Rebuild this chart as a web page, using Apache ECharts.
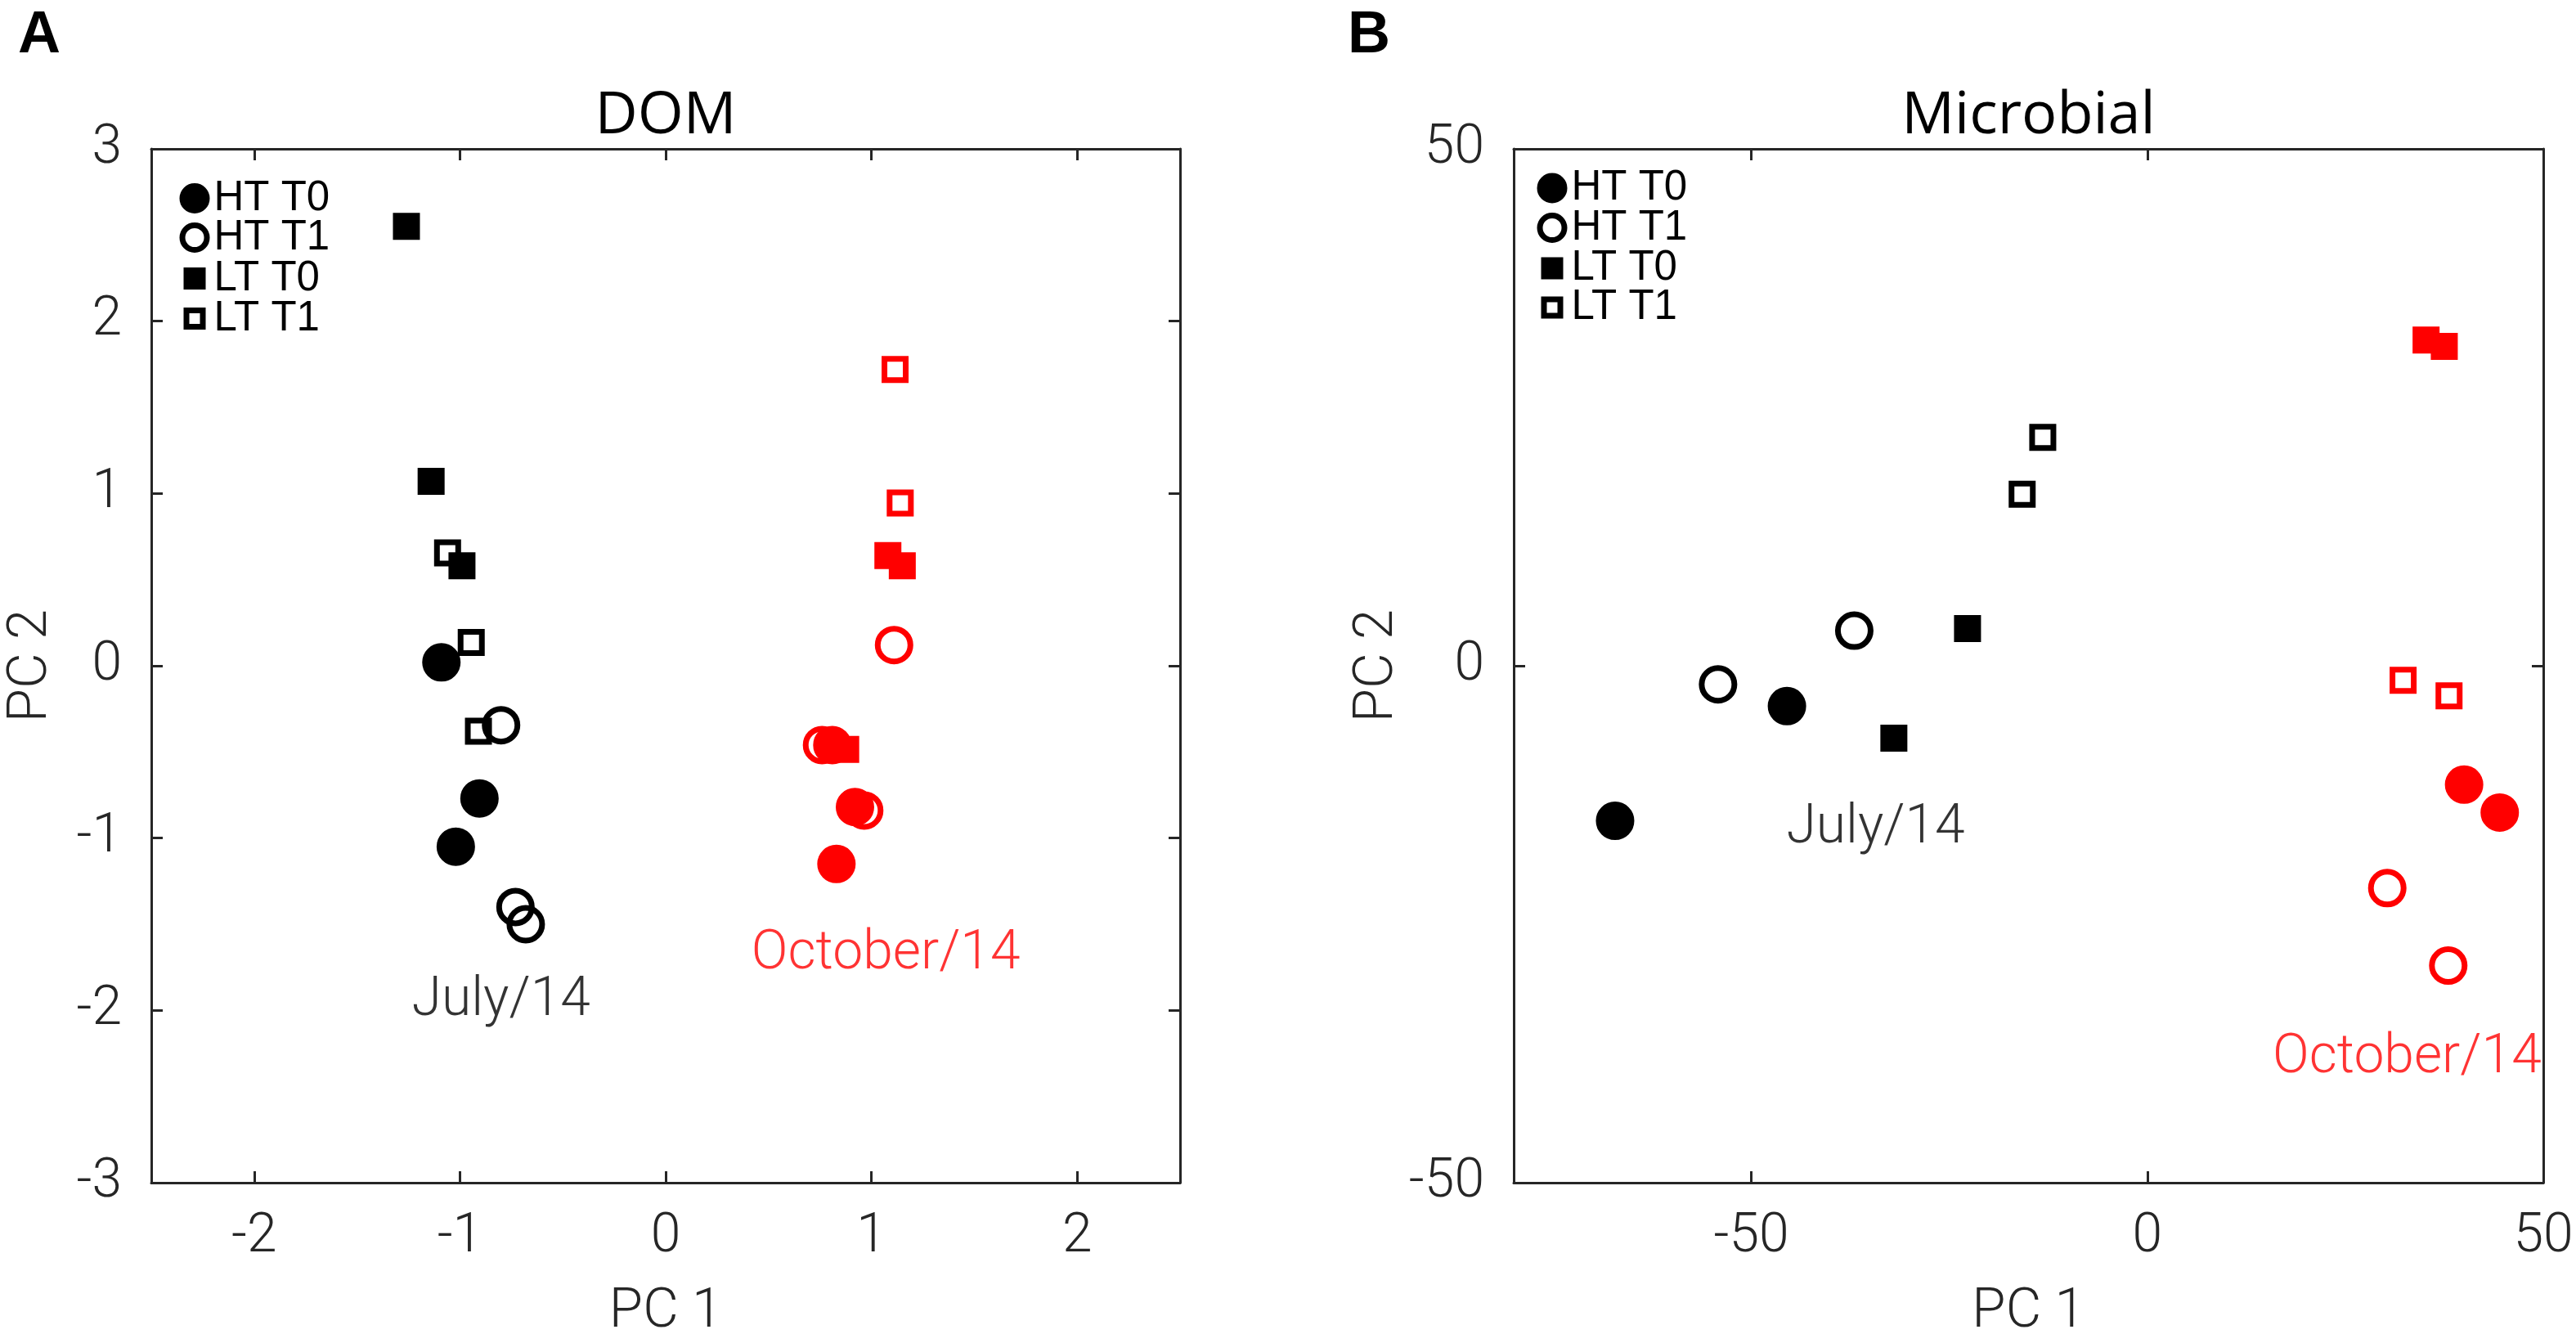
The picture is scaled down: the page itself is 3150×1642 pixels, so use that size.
<!DOCTYPE html>
<html>
<head>
<meta charset="utf-8">
<title>DOM / Microbial PCA</title>
<script src="https://cdn.jsdelivr.net/npm/echarts@6.0.0/dist/echarts.min.js"></script>
<style>
html, body { margin: 0; padding: 0; background: #fff; }
#myChart { width: 3150px; height: 1642px; }
</style>
</head>
<body>
<div id="myChart"></div>
<script>
// 数据: [PC 1, PC 2]
// A - DOM, July/14 (black)
var domJulyHT0 = [[-1.09, 0.02], [-0.905, -0.77], [-1.02, -1.05]];
var domJulyHT1 = [[-0.80, -0.345], [-0.73, -1.40], [-0.68, -1.50]];
var domJulyLT0 = [[-1.26, 2.55], [-1.14, 1.07], [-0.99, 0.58]];
var domJulyLT1 = [[-1.06, 0.655], [-0.945, 0.135], [-0.91, -0.38]];
// A - DOM, October/14 (red)
var domOctHT0 = [[0.81, -0.46], [0.92, -0.82], [0.83, -1.15]];
var domOctHT1 = [[0.76, -0.46], [0.965, -0.84], [1.11, 0.12]];
var domOctLT0 = [[0.875, -0.485], [1.08, 0.64], [1.15, 0.58]];
var domOctLT1 = [[1.115, 1.72], [1.14, 0.945]];

// B - Microbial, July/14 (black)
var micJulyHT0 = [[-45.5, -3.9], [-67.2, -15.0]];
var micJulyHT1 = [[-54.2, -1.8], [-37.0, 3.4]];
var micJulyLT0 = [[-22.7, 3.6], [-32.0, -7.0]];
var micJulyLT1 = [[-13.2, 22.1], [-15.8, 16.6]];
// B - Microbial, October/14 (red)
var micOctHT0 = [[40.0, -11.5], [44.5, -14.2]];
var micOctHT1 = [[30.3, -21.5], [38.0, -29.0]];
var micOctLT0 = [[35.2, 31.5], [37.5, 30.9]];
var micOctLT1 = [[32.3, -1.4], [38.1, -2.9]];

// 刻度
var domTicksX = [-2, -1, 0, 1, 2];
var domTicksY = [-3, -2, -1, 0, 1, 2, 3];
var micTicksX = [-50, 0, 50];
var micTicksY = [-50, 0, 50];

// 图例与标注
var groupNames = ['HT T0', 'HT T1', 'LT T0', 'LT T1'];
var monthNames = ['July/14', 'October/14'];
var domNotes = [[-0.80, -1.95], [1.07, -1.68]];
var micNotes = [[-34.3, -15.8], [32.8, -38.0]];

var BLACK = '#000000';
var RED = '#ff0000';
var AXIS = '#262626';
var LIGHT = 'Roboto';

function makeXAxis(grid, pos, min, max, ticks, name, nameStyle, nameGap) {
    return {
        type: 'value', gridIndex: grid, position: pos, min: min, max: max,
        name: name, nameLocation: 'middle', nameGap: nameGap,
        nameTextStyle: nameStyle,
        axisLine: { show: true, onZero: false, lineStyle: { color: AXIS, width: 3 } },
        axisTick: { show: true, inside: true, length: 14, customValues: ticks, lineStyle: { color: AXIS, width: 3 } },
        axisLabel: {
            show: pos === 'bottom', customValues: ticks, margin: 34,
            fontFamily: LIGHT, fontWeight: 300, fontSize: 66, color: AXIS
        },
        splitLine: { show: false }
    };
}

function makeYAxis(grid, pos, min, max, ticks, name) {
    return {
        type: 'value', gridIndex: grid, position: pos, min: min, max: max,
        name: name, nameLocation: 'middle', nameGap: 112,
        nameTextStyle: { fontFamily: LIGHT, fontWeight: 300, fontSize: 67, color: AXIS },
        axisLine: { show: true, onZero: false, lineStyle: { color: AXIS, width: 3 } },
        axisTick: { show: true, inside: true, length: 14, customValues: ticks, lineStyle: { color: AXIS, width: 3 } },
        axisLabel: {
            show: pos === 'left', customValues: ticks, margin: 36,
            fontFamily: LIGHT, fontWeight: 300, fontSize: 66, color: AXIS
        },
        splitLine: { show: false }
    };
}

function pointSeries(name, data, grid, color, shape) {
    var open = shape === 'openCircle' || shape === 'openSquare';
    var round = shape === 'circle' || shape === 'openCircle';
    return {
        name: name, type: 'scatter', xAxisIndex: grid * 2, yAxisIndex: grid * 2,
        data: data,
        symbol: round ? 'circle' : 'rect',
        symbolSize: round ? 40 : 26,
        itemStyle: { color: open ? 'rgba(0,0,0,0)' : color, borderColor: color, borderWidth: 7, opacity: 1 },
        emphasis: { disabled: true }
    };
}

function noteSeries(text, pos, grid, color) {
    return {
        name: text, type: 'scatter', xAxisIndex: grid * 2, yAxisIndex: grid * 2,
        data: [{ name: text, value: pos }],
        symbolSize: 1, silent: true,
        itemStyle: { color: 'rgba(0,0,0,0)' },
        label: {
            show: true, position: 'inside', formatter: '{b}',
            fontFamily: LIGHT, fontWeight: 300, fontSize: 66, color: color
        }
    };
}

var shapes = ['circle', 'openCircle', 'square', 'openSquare'];

// 每个图例项单独放置, 便于控制行距
function makeLegend(k, left, centerY) {
    var shape = shapes[k];
    var open = shape === 'openCircle' || shape === 'openSquare';
    var round = shape === 'circle' || shape === 'openCircle';
    var size = round ? 30 : 20;
    return {
        orient: 'vertical', padding: 0, selectedMode: false,
        left: round ? left : left + 5, top: centerY - 21,
        itemWidth: size, itemHeight: size,
        textStyle: {
            fontFamily: 'Liberation Sans', fontSize: 51, color: BLACK,
            lineHeight: 40, padding: [0, 0, 0, round ? 3.5 : 8.5]
        },
        data: [{
            name: groupNames[k],
            icon: round ? 'circle' : 'rect',
            itemStyle: { color: open ? 'rgba(0,0,0,0)' : BLACK, borderColor: BLACK, borderWidth: 7 }
        }]
    };
}

var domSets = [[domJulyHT0, domJulyHT1, domJulyLT0, domJulyLT1], [domOctHT0, domOctHT1, domOctLT0, domOctLT1]];
var micSets = [[micJulyHT0, micJulyHT1, micJulyLT0, micJulyLT1], [micOctHT0, micOctHT1, micOctLT0, micOctLT1]];

var series = [];
[domSets, micSets].forEach(function (sets, g) {
    sets.forEach(function (groups, m) {
        var color = m === 0 ? BLACK : RED;
        groups.forEach(function (data, k) {
            series.push(pointSeries(groupNames[k], data, g, color, shapes[k]));
        });
    });
});
series.push(noteSeries(monthNames[0], domNotes[0], 0, BLACK));
series.push(noteSeries(monthNames[1], domNotes[1], 0, RED));
series.push(noteSeries(monthNames[0], micNotes[0], 1, BLACK));
series.push(noteSeries(monthNames[1], micNotes[1], 1, RED));

var legendRowsA = [238, 286, 336, 385];
var legendRowsB = [225.5, 274, 323.5, 371.5];
var legends = [];
legendRowsA.forEach(function (y, k) { legends.push(makeLegend(k, 219.5, y)); });
legendRowsB.forEach(function (y, k) { legends.push(makeLegend(k, 1879.5, y)); });

var axisNameStyle = { fontFamily: LIGHT, fontWeight: 300, fontSize: 67, color: AXIS };
var titleStyle = { fontFamily: 'Open Sans', fontWeight: 'normal', fontSize: 72, color: BLACK };
var letterStyle = { fontFamily: 'Liberation Sans', fontWeight: 'bold', fontSize: 72, color: BLACK };

var myChart = echarts.init(document.getElementById('myChart'));

var option = {
    backgroundColor: '#ffffff',
    animation: false,
    title: [
        { text: 'A', left: 22, top: 8, padding: 0, textStyle: letterStyle },
        { text: 'B', left: 1648, top: 8, padding: 0, textStyle: letterStyle }
    ],
    legend: legends,
    grid: [
        { left: 185, top: 182, width: 1258, height: 1264, outerBoundsMode: 'none' },
        { left: 1851, top: 182, width: 1259, height: 1264, outerBoundsMode: 'none' }
    ],
    xAxis: [
        makeXAxis(0, 'bottom', -2.5, 2.5, domTicksX, 'PC 1', axisNameStyle, 126),
        makeXAxis(0, 'top', -2.5, 2.5, domTicksX, 'DOM', titleStyle, 4),
        makeXAxis(1, 'bottom', -80, 50, micTicksX, 'PC 1', axisNameStyle, 126),
        makeXAxis(1, 'top', -80, 50, micTicksX, 'Microbial', titleStyle, 4)
    ],
    yAxis: [
        makeYAxis(0, 'left', -3, 3, domTicksY, 'PC 2'),
        makeYAxis(0, 'right', -3, 3, domTicksY, ''),
        makeYAxis(1, 'left', -50, 50, micTicksY, 'PC 2'),
        makeYAxis(1, 'right', -50, 50, micTicksY, '')
    ],
    series: series
};

myChart.setOption(option);
</script>
</body>
</html>
